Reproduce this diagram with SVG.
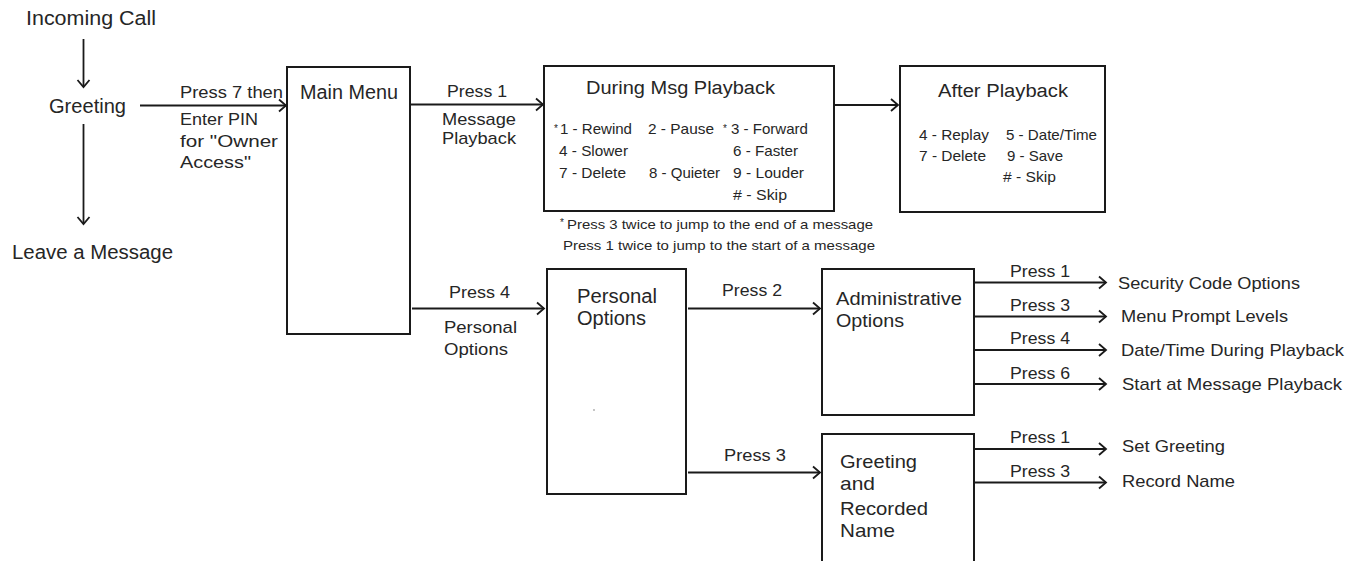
<svg xmlns="http://www.w3.org/2000/svg" width="1356" height="561" viewBox="0 0 1356 561">
<style>
text{font-family:"Liberation Sans",Arial,sans-serif;fill:#262626}
.h{font-size:20px}
.m{font-size:17px}
.s{font-size:15px}
.f{font-size:13.5px}
.a{font-size:10px}
.box{fill:#fff;stroke:#1a1a1a;stroke-width:2}
.ln{fill:none;stroke:#1a1a1a;stroke-width:1.8;marker-end:url(#arr)}
</style>
<defs>
<marker id="arr" markerUnits="userSpaceOnUse" markerWidth="12" markerHeight="14" viewBox="-9 -7 11 14" refX="0" refY="0" orient="auto" overflow="visible">
<path d="M-7,-6 L0,0 L-7,6" fill="none" stroke="#1a1a1a" stroke-width="1.8"/>
</marker>
</defs>
<rect width="1356" height="561" fill="#fff"/>

<g id="incoming-call"><text class="h" x="26" y="25" textLength="130" lengthAdjust="spacingAndGlyphs">Incoming Call</text></g>
<g id="greeting"><text class="h" x="49" y="113" textLength="77" lengthAdjust="spacingAndGlyphs">Greeting</text></g>
<g id="leave-message"><text class="h" x="12" y="259" textLength="161" lengthAdjust="spacingAndGlyphs">Leave a Message</text></g>

<g id="main-menu">
<rect class="box" x="287" y="67" width="123" height="267"/>
<text class="h" x="300" y="99" textLength="98" lengthAdjust="spacingAndGlyphs">Main Menu</text>
</g>

<g id="during-playback">
<rect class="box" x="544" y="66" width="290" height="145"/>
<text class="h" x="586" y="94" font-size="18" style="font-size:18px" textLength="189" lengthAdjust="spacingAndGlyphs">During Msg Playback</text>
<text class="a" x="554" y="132">*</text>
<text class="s" x="560" y="134" textLength="72" lengthAdjust="spacingAndGlyphs">1 - Rewind</text>
<text class="s" x="648" y="134" textLength="66" lengthAdjust="spacingAndGlyphs">2 - Pause</text>
<text class="a" x="723" y="132">*</text>
<text class="s" x="731" y="134" textLength="77" lengthAdjust="spacingAndGlyphs">3 - Forward</text>
<text class="s" x="559" y="156" textLength="69" lengthAdjust="spacingAndGlyphs">4 - Slower</text>
<text class="s" x="733" y="156" textLength="65" lengthAdjust="spacingAndGlyphs">6 - Faster</text>
<text class="s" x="559" y="178" textLength="67" lengthAdjust="spacingAndGlyphs">7 - Delete</text>
<text class="s" x="649" y="178" textLength="71" lengthAdjust="spacingAndGlyphs">8 - Quieter</text>
<text class="s" x="733" y="178" textLength="71" lengthAdjust="spacingAndGlyphs">9 - Louder</text>
<text class="s" x="733" y="200" textLength="54" lengthAdjust="spacingAndGlyphs"># - Skip</text>
</g>

<g id="footnote">
<text class="a" x="560" y="226">*</text>
<text class="f" x="567" y="228.5" textLength="306" lengthAdjust="spacingAndGlyphs">Press 3 twice to jump to the end of a message</text>
<text class="f" x="563" y="249.5" textLength="312" lengthAdjust="spacingAndGlyphs">Press 1 twice to jump to the start of a message</text>
</g>

<g id="after-playback">
<rect class="box" x="900" y="66" width="205" height="146"/>
<text x="938" y="97" style="font-size:18px" textLength="130" lengthAdjust="spacingAndGlyphs">After Playback</text>
<text class="s" x="919" y="140" textLength="70" lengthAdjust="spacingAndGlyphs">4 - Replay</text>
<text class="s" x="1006" y="140" textLength="91" lengthAdjust="spacingAndGlyphs">5 - Date/Time</text>
<text class="s" x="919" y="161" textLength="67" lengthAdjust="spacingAndGlyphs">7 - Delete</text>
<text class="s" x="1007" y="161" textLength="56" lengthAdjust="spacingAndGlyphs">9 - Save</text>
<text class="s" x="1003" y="182" textLength="53" lengthAdjust="spacingAndGlyphs"># - Skip</text>
</g>

<g id="personal-options">
<rect class="box" x="547" y="269" width="139" height="225"/>
<text class="h" x="577" y="303" textLength="80" lengthAdjust="spacingAndGlyphs">Personal</text>
<text class="h" x="577" y="325" textLength="69" lengthAdjust="spacingAndGlyphs">Options</text>
<circle cx="594" cy="410" r="0.9" fill="#aaa"/>
</g>

<g id="administrative-options">
<rect class="box" x="822" y="269" width="152" height="146"/>
<text class="h" x="836" y="305" style="font-size:19px" textLength="126" lengthAdjust="spacingAndGlyphs">Administrative</text>
<text class="h" x="836" y="326.5" style="font-size:19px" textLength="68" lengthAdjust="spacingAndGlyphs">Options</text>
</g>

<g id="greeting-recorded-name">
<rect class="box" x="822" y="434" width="152" height="140"/>
<text class="h" x="840" y="468" style="font-size:19px" textLength="77" lengthAdjust="spacingAndGlyphs">Greeting</text>
<text class="h" x="840" y="490" style="font-size:19px" textLength="35" lengthAdjust="spacingAndGlyphs">and</text>
<text class="h" x="840" y="515" style="font-size:19px" textLength="88" lengthAdjust="spacingAndGlyphs">Recorded</text>
<text class="h" x="840" y="537" style="font-size:19px" textLength="55" lengthAdjust="spacingAndGlyphs">Name</text>
</g>

<g id="security-code-options"><text class="m" x="1118" y="289" textLength="182" lengthAdjust="spacingAndGlyphs">Security Code Options</text></g>
<g id="menu-prompt-levels"><text class="m" x="1121" y="321.5" textLength="167" lengthAdjust="spacingAndGlyphs">Menu Prompt Levels</text></g>
<g id="datetime-during-playback"><text class="m" x="1121" y="355.5" textLength="223" lengthAdjust="spacingAndGlyphs">Date/Time During Playback</text></g>
<g id="start-at-message-playback"><text class="m" x="1122" y="390" textLength="220" lengthAdjust="spacingAndGlyphs">Start at Message Playback</text></g>
<g id="set-greeting"><text class="m" x="1122" y="452" textLength="103" lengthAdjust="spacingAndGlyphs">Set Greeting</text></g>
<g id="record-name"><text class="m" x="1122" y="487" textLength="113" lengthAdjust="spacingAndGlyphs">Record Name</text></g>

<g id="connectors">
<line class="ln" x1="83.5" y1="39" x2="83.5" y2="87"/>
<line class="ln" x1="83.5" y1="124" x2="83.5" y2="224"/>
<line class="ln" x1="140" y1="105.5" x2="286" y2="105.5"/>
<line class="ln" x1="410" y1="104.5" x2="543" y2="104.5"/>
<line class="ln" x1="412" y1="308.5" x2="544" y2="308.5"/>
<line class="ln" x1="834" y1="105" x2="898" y2="105"/>
<line class="ln" x1="688" y1="308.5" x2="820" y2="308.5"/>
<line class="ln" x1="688" y1="472.5" x2="820" y2="472.5"/>
<line class="ln" x1="974" y1="282.5" x2="1106" y2="282.5"/>
<line class="ln" x1="974" y1="316.5" x2="1106" y2="316.5"/>
<line class="ln" x1="974" y1="350" x2="1106" y2="350"/>
<line class="ln" x1="974" y1="384" x2="1106" y2="384"/>
<line class="ln" x1="974" y1="449" x2="1106" y2="449"/>
<line class="ln" x1="974" y1="482.5" x2="1106" y2="482.5"/>

<text class="m" x="180" y="97.5" textLength="103" lengthAdjust="spacingAndGlyphs">Press 7 then</text>
<text class="m" x="180" y="125" textLength="78" lengthAdjust="spacingAndGlyphs">Enter PIN</text>
<text class="m" x="180" y="146.5" textLength="98" lengthAdjust="spacingAndGlyphs">for "Owner</text>
<text class="m" x="180" y="167.5" textLength="71" lengthAdjust="spacingAndGlyphs">Access"</text>

<text class="m" x="447" y="97" textLength="60" lengthAdjust="spacingAndGlyphs">Press 1</text>
<text class="m" x="442" y="125" textLength="74" lengthAdjust="spacingAndGlyphs">Message</text>
<text class="m" x="442" y="143.5" textLength="74" lengthAdjust="spacingAndGlyphs">Playback</text>

<text class="m" x="449" y="297.5" textLength="61" lengthAdjust="spacingAndGlyphs">Press 4</text>
<text class="m" x="444" y="333" textLength="73" lengthAdjust="spacingAndGlyphs">Personal</text>
<text class="m" x="444" y="355" textLength="64" lengthAdjust="spacingAndGlyphs">Options</text>

<text class="m" x="722" y="296" textLength="60" lengthAdjust="spacingAndGlyphs">Press 2</text>
<text class="m" x="724" y="461" textLength="62" lengthAdjust="spacingAndGlyphs">Press 3</text>

<text class="m" x="1010" y="276.5" textLength="60" lengthAdjust="spacingAndGlyphs">Press 1</text>
<text class="m" x="1010" y="310.5" textLength="60" lengthAdjust="spacingAndGlyphs">Press 3</text>
<text class="m" x="1010" y="344" textLength="60" lengthAdjust="spacingAndGlyphs">Press 4</text>
<text class="m" x="1010" y="378.5" textLength="60" lengthAdjust="spacingAndGlyphs">Press 6</text>
<text class="m" x="1010" y="442.5" textLength="60" lengthAdjust="spacingAndGlyphs">Press 1</text>
<text class="m" x="1010" y="477" textLength="60" lengthAdjust="spacingAndGlyphs">Press 3</text>
</g>
</svg>
